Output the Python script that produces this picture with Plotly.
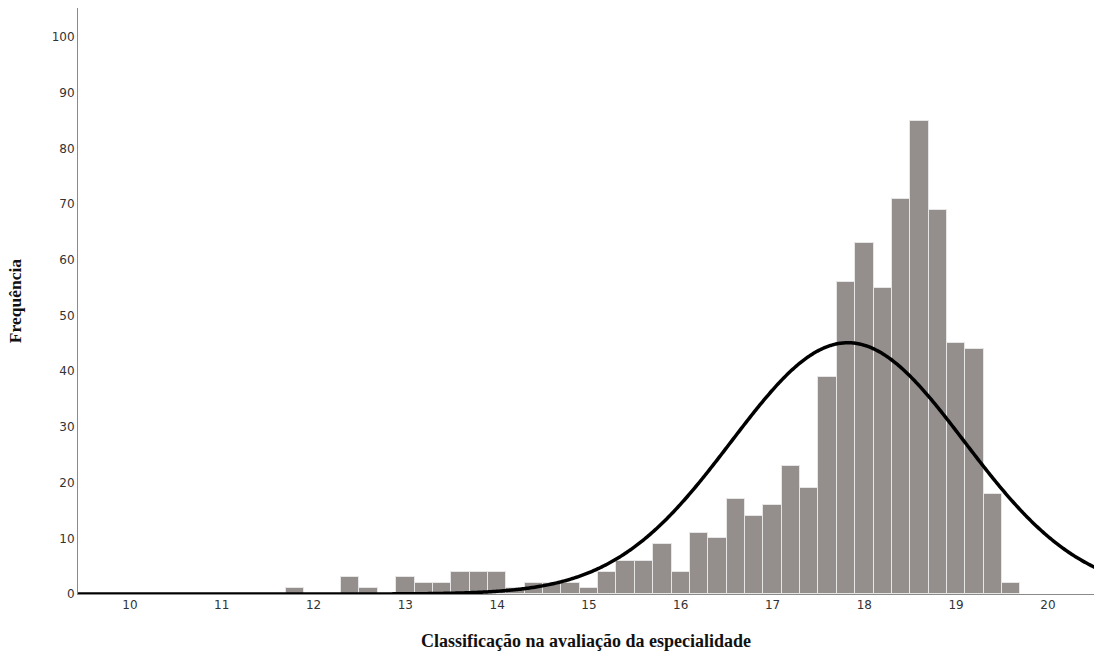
import numpy as np
import plotly.graph_objects as go

# Bin centres (width 0.2) and frequencies
bin_centers = [11.8, 12.0, 12.2, 12.4, 12.6, 12.8, 13.0, 13.2, 13.4, 13.6, 13.8, 14.0,
               14.2, 14.4, 14.6, 14.8, 15.0, 15.2, 15.4, 15.6, 15.8, 16.0, 16.2, 16.4,
               16.6, 16.8, 17.0, 17.2, 17.4, 17.6, 17.8, 18.0, 18.2, 18.4, 18.6, 18.8,
               19.0, 19.2, 19.4, 19.6]
frequencies = [1, 0, 0, 3, 1, 0, 3, 2, 2, 4, 4, 4,
               1, 2, 2, 2, 1, 4, 6, 6, 9, 4, 11, 10,
               17, 14, 16, 23, 19, 39, 56, 63, 55, 71, 85, 69,
               45, 44, 18, 2]
bin_width = 0.2

# Parameters of the fitted normal curve
curve_mean = 17.82
curve_sd = 1.27

x_ticks = [10, 11, 12, 13, 14, 15, 16, 17, 18, 19, 20]
y_ticks = [0, 10, 20, 30, 40, 50, 60, 70, 80, 90, 100]

n = float(sum(frequencies))
xs = np.linspace(9.3, 20.7, 800)
ys = n * bin_width / (curve_sd * np.sqrt(2 * np.pi)) * np.exp(-0.5 * ((xs - curve_mean) / curve_sd) ** 2)

fig = go.Figure()
fig.add_trace(go.Bar(
    x=bin_centers, y=frequencies, width=bin_width,
    marker=dict(color="#948f8d", line=dict(color="#e6e6e6", width=1)),
    showlegend=False, hoverinfo="x+y",
))
fig.add_trace(go.Scatter(
    x=xs, y=ys, mode="lines",
    line=dict(color="#000000", width=3.5, simplify=False),
    showlegend=False, hoverinfo="skip",
))

fig.update_layout(
    width=1094, height=656,
    margin=dict(l=78, r=0, t=8, b=62),
    paper_bgcolor="white", plot_bgcolor="white",
    bargap=0,
    xaxis=dict(
        range=[9.434, 20.502], tickvals=x_ticks, ticktext=[str(t) for t in x_ticks],
        showgrid=False, zeroline=False, showline=True, linecolor="#8a8a8a", linewidth=1,
        ticks="", ticklen=0,
        tickfont=dict(family="DejaVu Sans", size=12, color="#333333"),
        title=dict(text="Classificação na avaliação da especialidade",
                   font=dict(family="Liberation Serif", size=18, color="#111111", weight="bold"),
                   standoff=22),
    ),
    yaxis=dict(
        range=[0, 105.2], tickvals=y_ticks, ticktext=[str(t) for t in y_ticks],
        showgrid=False, zeroline=False, showline=True, linecolor="#8a8a8a", linewidth=1,
        ticks="", ticklen=0,
        tickfont=dict(family="DejaVu Sans", size=12, color="#333333"),
        title=dict(text="Frequência",
                   font=dict(family="Liberation Serif", size=17.5, color="#111111", weight="bold"),
                   standoff=25),
    ),
)

page_fix = ("document.body.style.margin='0';"
            "document.documentElement.style.overflow='hidden';")
fig.write_html("out.html", post_script=page_fix, config={"displayModeBar": False})
